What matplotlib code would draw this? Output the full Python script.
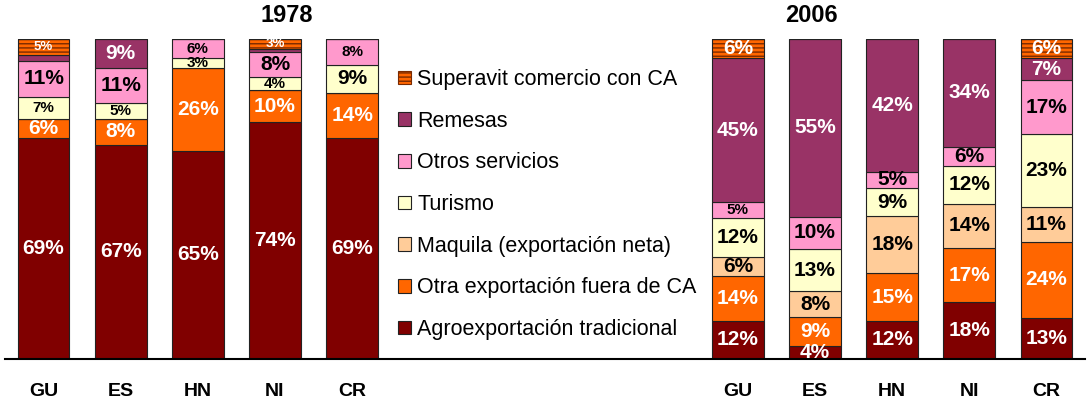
import numpy as np
import matplotlib.pyplot as plt
from matplotlib.patches import Patch

plt.rcParams['font.family'] = ['Liberation Sans', 'DejaVu Sans']

countries = ["GU", "ES", "HN", "NI", "CR"]
years = ["1978", "2006"]

categories = ["Agroexportación tradicional", "Otra exportación fuera de CA",
              "Maquila (exportación neta)", "Turismo", "Otros servicios",
              "Remesas", "Superavit comercio con CA"]

# shares in % (bottom to top), one list per category, countries in order
agro = {"1978": [69, 67, 65, 74, 69], "2006": [12, 4, 12, 18, 13]}
otra_export = {"1978": [6, 8, 26, 10, 14], "2006": [14, 9, 15, 17, 24]}
maquila = {"1978": [0, 0, 0, 0, 0], "2006": [6, 8, 18, 14, 11]}
turismo = {"1978": [7, 5, 3, 4, 9], "2006": [12, 13, 9, 12, 23]}
otros_servicios = {"1978": [11, 11, 6, 8, 8], "2006": [5, 10, 5, 6, 17]}
remesas = {"1978": [2, 9, 0, 1, 0], "2006": [45, 55, 42, 34, 7]}
superavit = {"1978": [5, 0, 0, 3, 0], "2006": [6, 0, 0, 0, 6]}

series = [agro, otra_export, maquila, turismo, otros_servicios, remesas, superavit]

colors = ["#800000", "#FF6600", "#FFCC99", "#FFFFCC", "#FF99CC", "#993366", "#FF6600"]
text_colors = ["white", "white", "black", "black", "black", "white", "white"]

# labels drawn in a smaller font (year, country, category index)
small_labels = [("1978", "GU", 3), ("1978", "ES", 3), ("1978", "HN", 4),
                ("1978", "HN", 3), ("1978", "NI", 3), ("1978", "CR", 4),
                ("2006", "GU", 4)]
tiny_labels = [("1978", "GU", 6), ("1978", "NI", 6)]

W, H = 1091, 404
fig = plt.figure(figsize=(W / 100, H / 100), dpi=100)
ax = fig.add_axes([5 / W, 45 / H, 1080 / W, 320 / H])

offsets = {"1978": 0, "2006": 9}
width = 0.67

for year in years:
    x = np.arange(len(countries)) + offsets[year]
    vals = np.array([s[year] for s in series], dtype=float)
    heights = vals / vals.sum(axis=0) * 100
    bottom = np.zeros(len(countries))
    for k in range(len(series)):
        h = heights[k]
        if k == 6:
            # striped segment: hatch first, then a dark outline on top
            ax.bar(x, h, width, bottom=bottom, color=colors[k], edgecolor="#7a2a00",
                   hatch="----", linewidth=0)
            ax.bar(x, h, width, bottom=bottom, fill=False, edgecolor="#222222",
                   linewidth=0.8)
        else:
            ax.bar(x, h, width, bottom=bottom, color=colors[k], edgecolor="#222222",
                   linewidth=0.8)
        for i, c in enumerate(countries):
            v = vals[k][i]
            if v >= 3:
                size = 15
                if (year, c, k) in small_labels:
                    size = 11
                elif (year, c, k) in tiny_labels:
                    size = 9.5
                ax.text(x[i], bottom[i] + h[i] / 2, f"{int(v)}%", ha="center",
                        va="center", fontsize=size, fontweight="bold",
                        color=text_colors[k])
        bottom += h

ax.set_xlim(-0.5, 13.5)
ax.set_ylim(0, 100)
ax.set_xticks(list(range(5)) + list(range(9, 14)))
ax.set_xticklabels(countries + countries, fontsize=14, fontweight="bold")
ax.tick_params(axis="x", length=0, pad=17)
ax.set_yticks([])
for s in ["left", "right", "top"]:
    ax.spines[s].set_visible(False)
ax.spines["bottom"].set_linewidth(1.5)

fig.text(287 / W, 1 - 16 / H, "1978", ha="center", va="center", fontsize=17, fontweight="bold")
fig.text(811 / W, 1 - 16 / H, "2006", ha="center", va="center", fontsize=17, fontweight="bold")

handles = []
for k in reversed(range(len(categories))):
    if k == 6:
        handles.append(Patch(facecolor=colors[k], edgecolor="#7a2a00", hatch="----",
                             linewidth=0.8))
    else:
        handles.append(Patch(facecolor=colors[k], edgecolor="#222222", linewidth=0.8))
fig.legend(handles, list(reversed(categories)), loc="upper left",
           bbox_to_anchor=(398 / W, 1 - 69 / H), frameon=False, fontsize=15.5,
           handlelength=0.6, handleheight=0.6, handletextpad=0.3,
           labelspacing=0.96, borderpad=0, borderaxespad=0)

fig.savefig("out.png", dpi=100)
